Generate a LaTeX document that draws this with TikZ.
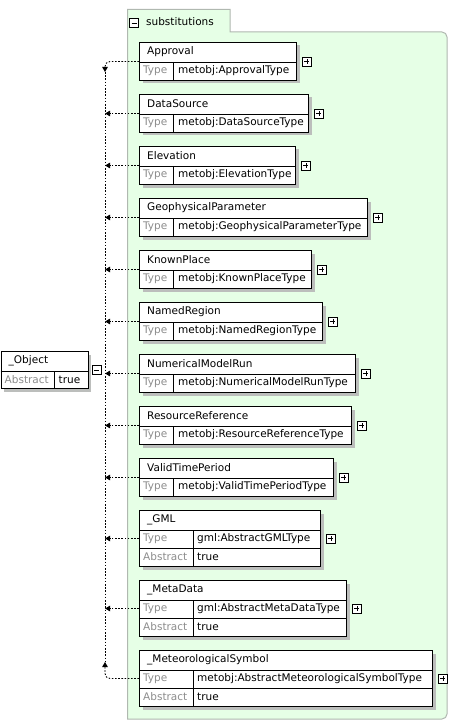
\documentclass[tikz,border=0pt]{standalone}
\usepackage{fontspec}
\setmainfont{DejaVu Sans}
\usetikzlibrary{positioning,calc,arrows.meta,shadows}
\definecolor{subsgreen}{RGB}{230,255,230}
\definecolor{subsborder}{RGB}{176,184,176}
\definecolor{boxshadow}{RGB}{188,190,188}
\definecolor{attrgray}{RGB}{140,140,140}
\tikzset{
  elembox/.style={draw, line width=1pt, fill=white, anchor=north west, inner sep=0pt,
    minimum height=#1, drop shadow={shadow xshift=3pt, shadow yshift=-3pt, fill=boxshadow, opacity=1}},
  sepline/.style={line width=0.8pt},
  elemname/.style={anchor=west, inner sep=0pt},
  attrname/.style={anchor=west, inner sep=0pt, text=attrgray},
  attrvalue/.style={anchor=west, inner sep=0pt},
  collapser/.style={draw, line width=0.8pt, fill=white, minimum size=9pt, inner sep=0pt,
    path picture={\draw[line width=0.8pt] ([xshift=-2.5pt]path picture bounding box.center) -- ([xshift=2.5pt]path picture bounding box.center);}},
  expander/.style={collapser,
    path picture={\draw[line width=0.8pt] ([xshift=-2.5pt]path picture bounding box.center) -- ([xshift=2.5pt]path picture bounding box.center);
                  \draw[line width=0.8pt] ([yshift=-2.5pt]path picture bounding box.center) -- ([yshift=2.5pt]path picture bounding box.center);}},
  subsline/.style={line width=0.9pt, dash pattern=on 1.6pt off 1.6pt},
  subsarrow/.style={subsline, -{Triangle[length=5pt,width=5.5pt]}}
}

\begin{document}
\begin{tikzpicture}[x=1pt,y=-1pt,font=\fontsize{10.5}{12}\selectfont]
\useasboundingbox (0,0) rectangle (449,722);

% substitutions panel
\filldraw[fill=subsgreen, draw=subsborder, line width=1pt]
  (127.5,719) -- (127.5,9.5) -- (230,9.5) -- (230,32) -- (440,32)
  [rounded corners=5pt] -- (447,32) -- (447,719) -- (400,719)
  [sharp corners] -- cycle;
\node[collapser] (subsx) at (134,23) {};
\node[elemname] (subslabel) at (146,22) {substitutions};

% head element
\node[elembox=37pt, minimum width=87pt] (object) at (0.5,351) {};
\draw[sepline] ($(object.north west)+(0,20)$) -- ($(object.north east)+(0,20)$);
\draw[sepline] ($(object.north west)+(54,20)$) -- ($(object.south west)+(54,0)$);
\node[elemname] at ($(object.north west)+(8,10)$) {\_Object};
\node[attrname] at ($(object.north west)+(4,29)$) {Abstract};
\node[attrvalue] at ($(object.north west)+(58,29)$) {true};
\node[collapser, right=3pt of object] (objectx) {};

% members with a type
\foreach \k/\elname/\eltype/\boxw in {0/Approval/ApprovalType/157, 1/DataSource/DataSourceType/169,
  2/Elevation/ElevationType/156, 3/GeophysicalParameter/GeophysicalParameterType/228,
  4/KnownPlace/KnownPlaceType/172, 5/NamedRegion/NamedRegionType/183,
  6/NumericalModelRun/NumericalModelRunType/216, 7/ResourceReference/ResourceReferenceType/212,
  8/ValidTimePeriod/ValidTimePeriodType/194}
{
  \node[elembox=38pt, minimum width=\boxw pt] (sub\k) at (139,{42+52*\k}) {};
  \draw[sepline] ($(sub\k.north west)+(0,20)$) -- ($(sub\k.north east)+(0,20)$);
  \draw[sepline] ($(sub\k.north west)+(34,20)$) -- ($(sub\k.south west)+(34,0)$);
  \node[elemname] at ($(sub\k.north west)+(8,10)$) {\elname};
  \node[attrname] at ($(sub\k.north west)+(4,29)$) {Type};
  \node[attrvalue] at ($(sub\k.north west)+(39,29)$) {metobj:\eltype};
  \node[expander, right=5pt of sub\k] (subx\k) {};
}

% abstract members
\foreach \k/\elname/\eltype/\boxw/\ytop in {9/\_GML/gml:AbstractGMLType/181/510,
  10/\_MetaData/gml:AbstractMetaDataType/207/580,
  11/\_MeteorologicalSymbol/metobj:AbstractMeteorologicalSymbolType/293/650}
{
  \node[elembox=56pt, minimum width=\boxw pt] (sub\k) at (139,\ytop) {};
  \draw[sepline] ($(sub\k.north west)+(0,20)$) -- ($(sub\k.north east)+(0,20)$);
  \draw[sepline] ($(sub\k.north west)+(0,38)$) -- ($(sub\k.north east)+(0,38)$);
  \draw[sepline] ($(sub\k.north west)+(54,20)$) -- ($(sub\k.south west)+(54,0)$);
  \node[elemname] at ($(sub\k.north west)+(8,10)$) {\elname};
  \node[attrname] at ($(sub\k.north west)+(4,29)$) {Type};
  \node[attrvalue] at ($(sub\k.north west)+(58,29)$) {\eltype};
  \node[attrname] at ($(sub\k.north west)+(4,47)$) {Abstract};
  \node[attrvalue] at ($(sub\k.north west)+(58,47)$) {true};
  \node[expander, right=5pt of sub\k] (subx\k) {};
}

% substitution links
\coordinate (bus) at (105,0);
\coordinate (bustop) at (105,72);
\coordinate (busbot) at (105,662);
\draw[subsline] (bustop) -- (busbot);
\draw[subsarrow, rounded corners=5pt] (sub0.west) -| (bustop);
\draw[subsarrow, rounded corners=5pt] (sub11.west) -| (busbot);
\foreach \k in {1,...,10}
  \draw[subsarrow] (sub\k.west) -- (sub\k.west -| bus);
\end{tikzpicture}
\end{document}
